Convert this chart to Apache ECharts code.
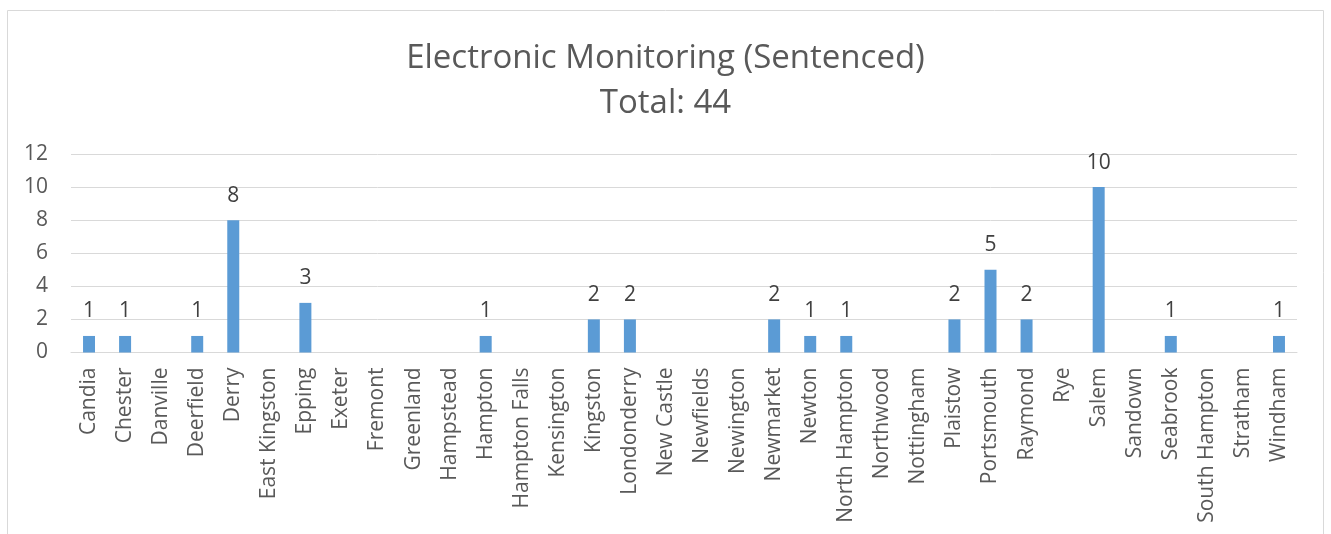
<!DOCTYPE html>
<html><head><meta charset="utf-8">
<script src="https://cdn.jsdelivr.net/npm/echarts@6/dist/echarts.min.js"></script>
<style>html,body{margin:0;padding:0;background:#fff}#c{width:1331px;height:534px}</style>
</head><body><div id="c"></div>
<script>
const categories = ["Candia","Chester","Danville","Deerfield","Derry","East Kingston","Epping","Exeter","Fremont","Greenland","Hampstead","Hampton","Hampton Falls","Kensington","Kingston","Londonderry","New Castle","Newfields","Newington","Newmarket","Newton","North Hampton","Northwood","Nottingham","Plaistow","Portsmouth","Raymond","Rye","Salem","Sandown","Seabrook","South Hampton","Stratham","Windham"];
const values = [1,1,0,1,8,0,3,0,0,0,0,1,0,0,2,2,0,0,0,2,1,1,0,0,2,5,2,0,10,0,1,0,0,1];
const titleText = "Electronic Monitoring (Sentenced)";
const subtitleText = "Total: 44";
const yTicks = [0,2,4,6,8,10,12];

const FONT = "'Open Sans', 'Liberation Sans', sans-serif";
const chart = echarts.init(document.getElementById('c'));
chart.setOption({
  animation:false,
  graphic:[{type:'rect',shape:{x:7.5,y:10.5,width:1316,height:600},style:{fill:'none',stroke:'#d9d9d9',lineWidth:1},silent:true}],
  title:{text:titleText+"\n"+subtitleText,left:'center',top:31,
    textStyle:{fontFamily:FONT,fontSize:33,fontWeight:'normal',color:'#595959',lineHeight:45}},
  grid:{left:71,right:34,top:154,bottom:181.5,containLabel:false},
  xAxis:{type:'category',data:categories,
    axisLine:{lineStyle:{color:'#d9d9d9',width:1}},axisTick:{show:false},
    axisLabel:{rotate:90,interval:0,margin:15,color:'#595959',fontFamily:FONT,fontSize:21}},
  yAxis:{type:'value',min:yTicks[0],max:yTicks[yTicks.length-1],interval:2,
    axisLine:{show:false},axisTick:{show:false},
    splitLine:{lineStyle:{color:'#d9d9d9',width:1}},
    axisLabel:{margin:23,color:'#595959',fontFamily:FONT,fontSize:21}},
  series:[{type:'bar',data:values,barWidth:12,itemStyle:{color:'#5b9bd5'},
    label:{show:true,position:'top',distance:14,color:'#404040',fontFamily:FONT,fontSize:21,
      formatter:p=>p.value===0?'':p.value}}]
});
</script></body></html>
